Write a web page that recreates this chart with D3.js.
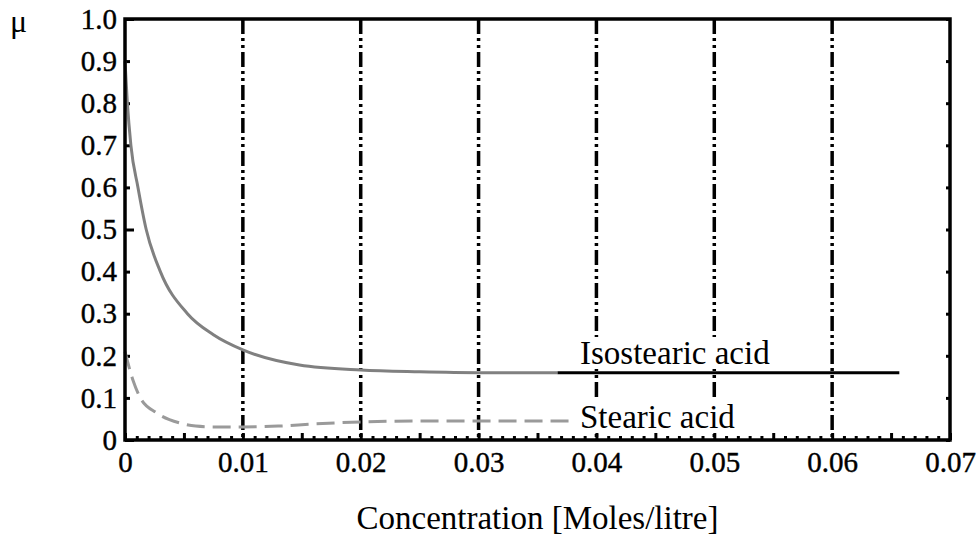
<!DOCTYPE html>
<html>
<head>
<meta charset="utf-8">
<script src="https://cdn.jsdelivr.net/npm/d3@7"></script>
<style>
  body { margin: 0; background: #fff; }
  text { font-family: "Liberation Serif", "DejaVu Serif", serif; fill: #000; }
</style>
</head>
<body>
<div id="chart"></div>
<script>
// concentration (Moles/litre) vs friction coefficient
var isoConc  = [0, 0.0002, 0.0005, 0.0011, 0.0018, 0.003, 0.0053, 0.0075, 0.01, 0.0148, 0.02, 0.025, 0.03, 0.0367, 0.0657];
var isoMu    = [0.9, 0.8, 0.7, 0.6, 0.5, 0.4, 0.3, 0.25, 0.214, 0.178, 0.166, 0.162, 0.16, 0.16, 0.16];
var isoGrayEnd = 0.0367; // curve turns black after this

var stConc = [0, 0.0007, 0.0013, 0.0027, 0.0047, 0.006, 0.0075, 0.01, 0.013, 0.016, 0.02, 0.025, 0.03, 0.038];
var stMu   = [0.21, 0.14, 0.10, 0.064, 0.04, 0.033, 0.031, 0.031, 0.033, 0.038, 0.043, 0.045, 0.045, 0.045];

var xTicks = [0, 0.01, 0.02, 0.03, 0.04, 0.05, 0.06, 0.07];
var xTickLabels = ['0', '0.01', '0.02', '0.03', '0.04', '0.05', '0.06', '0.07'];
var yTicks = [0, 0.1, 0.2, 0.3, 0.4, 0.5, 0.6, 0.7, 0.8, 0.9, 1.0];
var yTickLabels = ['0', '0.1', '0.2', '0.3', '0.4', '0.5', '0.6', '0.7', '0.8', '0.9', '1.0'];
var gridX = [0.01, 0.02, 0.03, 0.04, 0.05, 0.06];

var width = 977, height = 535;
var mLeft = 125, mRight = 950, mTop = 19, mBottom = 440;

var svg = d3.select('#chart').append('svg')
    .attr('width', width)
    .attr('height', height);

var x = d3.scaleLinear().domain([0, 0.07]).range([mLeft, mRight]);
var y = d3.scaleLinear().domain([0, 1]).range([mBottom, mTop]);

// dash-dot-dot verticals
svg.selectAll('line.grid')
  .data(gridX)
  .enter().append('line')
  .attr('class', 'grid')
  .attr('x1', x).attr('x2', x)
  .attr('y1', mTop).attr('y2', mBottom)
  .attr('stroke', '#000')
  .attr('stroke-width', 3.5)
  .attr('stroke-dasharray', '15,4,3,4,3,4');

// minor ticks along the bottom, pointing in
var minorX = d3.range(0, 71).map(function(i) { return i / 1000; });
svg.append('g')
  .attr('transform', 'translate(0,' + mBottom + ')')
  .call(d3.axisBottom(x).tickValues(minorX).tickFormat('')
    .tickSize(-4))
  .call(function(g) { g.select('.domain').remove(); })
  .selectAll('.tick line')
  .attr('stroke-width', 3)
  .attr('y2', function(d) { return (Math.round(d * 1000) % 5 === 0) ? -7 : -4; });

// left ticks
svg.append('g')
  .attr('transform', 'translate(' + mLeft + ',0)')
  .call(d3.axisLeft(y).tickValues(yTicks).tickFormat('').tickSize(-5))
  .call(function(g) { g.select('.domain').remove(); })
  .selectAll('.tick line')
  .attr('stroke-width', 3)
  .attr('x2', function(d) { return (Math.round(d * 10) % 5 === 0) ? 9 : 5; });

// right ticks
svg.append('g')
  .attr('transform', 'translate(' + mRight + ',0)')
  .call(d3.axisRight(y).tickValues(yTicks).tickFormat('').tickSize(-4))
  .call(function(g) { g.select('.domain').remove(); })
  .selectAll('.tick line')
  .attr('stroke-width', 3);

// tick labels
var xAxis = svg.append('g')
  .attr('transform', 'translate(0,' + mBottom + ')')
  .call(d3.axisBottom(x).tickValues(xTicks)
    .tickFormat(function(d, i) { return xTickLabels[i]; })
    .tickSize(0).tickPadding(11));
xAxis.select('.domain').remove();
xAxis.selectAll('text').attr('font-size', 29).style('font-family', '"Liberation Serif", serif')
  .attr('stroke', '#000').attr('stroke-width', 0.4);

var yAxis = svg.append('g')
  .attr('transform', 'translate(' + mLeft + ',0)')
  .call(d3.axisLeft(y).tickValues(yTicks)
    .tickFormat(function(d, i) { return yTickLabels[i]; })
    .tickSize(0).tickPadding(8));
yAxis.select('.domain').remove();
yAxis.selectAll('text').attr('font-size', 29).style('font-family', '"Liberation Serif", serif')
  .attr('stroke', '#000').attr('stroke-width', 0.4);

// curves
var line = d3.line()
  .x(function(d) { return x(d[0]); })
  .y(function(d) { return y(d[1]); })
  .curve(d3.curveMonotoneX);

var iso = isoConc.map(function(c, i) { return [c, isoMu[i]]; });
var isoGray = iso.filter(function(d) { return d[0] <= isoGrayEnd; });
var isoBlack = iso.filter(function(d) { return d[0] >= isoGrayEnd; });
var st = stConc.map(function(c, i) { return [c, stMu[i]]; });

svg.append('path')
  .datum(st)
  .attr('d', line)
  .attr('fill', 'none')
  .attr('stroke', '#9a9a9a')
  .attr('stroke-width', 3)
  .attr('stroke-dasharray', '18,8');

svg.append('path')
  .datum(isoGray)
  .attr('d', line)
  .attr('fill', 'none')
  .attr('stroke', '#808080')
  .attr('stroke-width', 3);

svg.append('path')
  .datum(isoBlack)
  .attr('d', line)
  .attr('fill', 'none')
  .attr('stroke', '#000')
  .attr('stroke-width', 3);

// frame
svg.append('rect')
  .attr('x', mLeft).attr('y', mTop)
  .attr('width', mRight - mLeft).attr('height', mBottom - mTop)
  .attr('fill', 'none')
  .attr('stroke', '#000')
  .attr('stroke-width', 3.5);

// series labels sit on white boxes that hide the grid lines
function addLabel(txt, lx, ly) {
  var g = svg.append('g');
  var bg = g.append('rect').attr('fill', '#fff');
  var t = g.append('text')
    .attr('x', lx).attr('y', ly)
    .attr('font-size', 33)
    .text(txt);
  var bb = t.node().getBBox();
  bg.attr('x', bb.x - 4).attr('y', bb.y + 2)
    .attr('width', bb.width + 8).attr('height', bb.height - 4);
}
addLabel('Isostearic acid', 580, 364);
addLabel('Stearic acid', 580, 428);

svg.append('text')
  .attr('x', 10).attr('y', 32)
  .attr('font-size', 32)
  .text('μ');

svg.append('text')
  .attr('x', (mLeft + mRight) / 2).attr('y', 529)
  .attr('text-anchor', 'middle')
  .attr('font-size', 33)
  .text('Concentration [Moles/litre]');
</script>
</body>
</html>
